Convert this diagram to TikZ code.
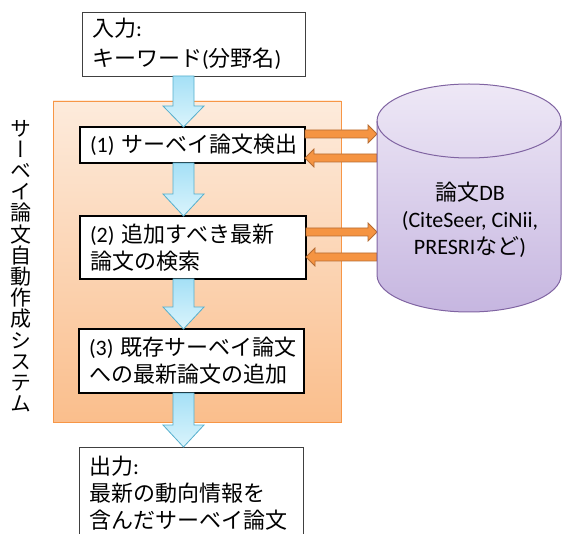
\documentclass[tikz,border=0pt]{standalone}
\usepackage{fontspec}
\setmainfont{Noto Sans CJK JP}
\newfontfamily\lt{Carlito}
\newfontfamily\vjp[RawFeature=+vert]{Noto Sans CJK JP}
\usetikzlibrary{calc,shadows}
\definecolor{blutop}{RGB}{165,224,246}
\definecolor{blubot}{RGB}{218,244,252}
\definecolor{bluedge}{RGB}{85,175,205}
\definecolor{systop}{RGB}{253,235,220}
\definecolor{sysbot}{RGB}{250,190,140}
\definecolor{sysedge}{RGB}{247,150,70}
\definecolor{dbtop}{RGB}{238,232,246}
\definecolor{dbbot}{RGB}{198,182,224}
\definecolor{dbedge}{RGB}{128,100,162}
\definecolor{orfill}{RGB}{245,148,66}
\definecolor{oredge}{RGB}{182,108,50}
\newcommand\blockdown[3]{%
  \path[bluearrow] let \p1=(#1.south), \p2=(#2.north) in
  (173pt,\y1) -- (173pt,{\y2+#3pt}) -- (163pt,{\y2+#3pt}) -- (183.5pt,\y2)
  -- (204pt,{\y2+#3pt}) -- (194pt,{\y2+#3pt}) -- (194pt,\y1) -- cycle;}
\newcommand\oright[3]{%
  \path[orangearrow] let \p1=($(#1.east)+(0,{-(#3)})$), \p2=(#2) in
  (\x1,{\y1+4pt}) -- ({\x2-9pt},{\y1+4pt}) -- ({\x2-9pt},{\y1+9pt}) -- (\x2,\y1)
  -- ({\x2-9pt},{\y1-9pt}) -- ({\x2-9pt},{\y1-4pt}) -- (\x1,{\y1-4pt}) -- cycle;}
\newcommand\oleft[3]{%
  \path[orangearrow] let \p1=($(#1.east)+(0,{-(#3)})$), \p2=(#2) in
  (\x2,{\y1+4pt}) -- ({\x1+9pt},{\y1+4pt}) -- ({\x1+9pt},{\y1+9pt}) -- (\x1,\y1)
  -- ({\x1+9pt},{\y1-9pt}) -- ({\x1+9pt},{\y1-4pt}) -- (\x2,{\y1-4pt}) -- cycle;}
\begin{document}
\begin{tikzpicture}[x=1pt,y=-1pt,
  txt/.style={font=\fontsize{22}{27}\selectfont},
  boxbase/.style={txt, anchor=north west, align=left, fill=white,
    inner xsep=10pt, inner ysep=0pt, outer sep=0pt},
  procbox/.style={boxbase, draw=black, line width=1.8pt},
  iobox/.style={boxbase, draw=black!75, line width=0.9pt},
  sysbox/.style={anchor=north west, top color=systop, bottom color=sysbot,
    draw=sysedge, line width=0.8pt, inner sep=0pt, outer sep=0pt,
    drop shadow={shadow xshift=1.2pt, shadow yshift=-1.2pt, opacity=0.25}},
  bluearrow/.style={top color=blutop, bottom color=blubot, draw=bluedge, line width=0.8pt},
  orangearrow/.style={fill=orfill, draw=oredge, line width=0.8pt},
  dbbody/.style={top color=dbtop, bottom color=dbbot, draw=dbedge, line width=1pt},
  vtext/.style={font=\vjp\fontsize{21}{21.2}\selectfont, align=center, inner sep=0pt},
  dbtext/.style={txt, align=center, inner sep=0pt}]
\useasboundingbox (0,0) rectangle (562,534);
\clip (0,0) rectangle (562,534);

% system frame
\node[sysbox, minimum width=288, minimum height=321] (sys) at (53,101) {};
\node[vtext] (vt) at (21,266) {サ\\ー\\ベ\\イ\\論\\文\\自\\動\\作\\成\\シ\\ス\\テ\\ム};

% boxes
\node[iobox, text width=203, minimum height=64] (in) at (82,12)
  {入力{\lt :}\\[3pt]キーワード{\lt (}分野名{\lt )}};
\node[procbox, text width=205, minimum height=36] (b1) at (80,127)
  {{\lt (1)~}サーベイ論文検出};
\node[procbox, text width=206, minimum height=63] (b2) at (80,216)
  {{\lt (2)~}追加すべき最新\\論文の検索};
\node[procbox, text width=205, minimum height=64] (b3) at (79,329)
  {{\lt (3)~}既存サーベイ論文\\への最新論文の追加};
\node[iobox, text width=204, minimum height=93] (out) at (79,447)
  {出力{\lt :}\\最新の動向情報を\\含んだサーベイ論文};

% blue flow arrows
\blockdown{in}{b1}{21}
\blockdown{b1}{b2}{22}
\blockdown{b2}{b3}{22}
\blockdown{b3}{out}{22}

% database cylinder
\coordinate (dbl) at (377,121);
\oright{b1}{dbl}{11}
\oleft{b1}{dbl}{-13}
\oright{b2}{dbl}{15.5}
\oleft{b2}{dbl}{-9.5}
\path[dbbody] (377,121) -- (377,275)
  arc[start angle=180, end angle=0, x radius=92, y radius=37] -- (561,121)
  arc[start angle=0, end angle=-180, x radius=92, y radius=37] -- cycle;
\draw[draw=dbedge, line width=1pt] (377,121)
  arc[start angle=180, end angle=0, x radius=92, y radius=37];
\node[dbtext] (db) at (470,220)
  {論文{\lt DB}\\{\lt (CiteSeer, CiNii,}\\{\lt PRESRI}など{\lt )}};
\end{tikzpicture}
\end{document}
